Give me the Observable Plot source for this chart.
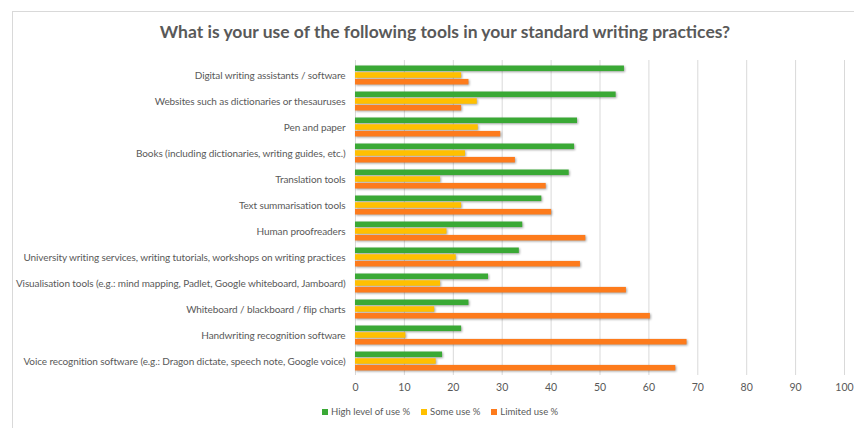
<!DOCTYPE html>
<html>
<head>
<meta charset="utf-8">
<script src="https://cdn.jsdelivr.net/npm/d3@7"></script>
<script src="https://cdn.jsdelivr.net/npm/@observablehq/plot@0.6"></script>
<style>
  html, body { margin: 0; padding: 0; background: #fff; }
  body { width: 854px; height: 428px; position: relative; overflow: hidden; font-family: Lato, "Open Sans", sans-serif; }
  #frame { position: absolute; left: 12px; top: 11px; width: 900px; height: 430px; border: 1px solid #d9d9d9; box-sizing: border-box; }
  #title { position: absolute; left: 0; width: 890px; top: 21px; text-align: center; font-size: 17.5px; font-weight: bold; color: #595959; }
  #chart { position: absolute; left: 0; top: 0; }
  #legend { position: absolute; top: 406px; left: 322px; display: flex; font-size: 9.5px; color: #595959; }
  #legend .item { display: flex; align-items: center; margin-right: 11px; }
  #legend .sw { width: 6px; height: 6px; margin-right: 3px; }
  svg g[aria-label="bar"] { filter: drop-shadow(1px 1.5px 1px rgba(0,0,0,0.35)); }
  svg g[aria-label="y-axis tick label"] text { font-size: 10px; letter-spacing: -0.1px; }
</style>
</head>
<body>
<div id="frame"></div>
<div id="title">What is your use of the following tools in your standard writing practices?</div>
<div id="chart"></div>
<div id="legend"></div>
<script>
const tools = [
  "Digital writing assistants / software",
  "Websites such as dictionaries or thesauruses",
  "Pen and paper",
  "Books (including dictionaries, writing guides, etc.)",
  "Translation tools",
  "Text summarisation tools",
  "Human proofreaders",
  "University writing services, writing tutorials, workshops on writing practices",
  "Visualisation tools (e.g.: mind mapping, Padlet, Google whiteboard, Jamboard)",
  "Whiteboard / blackboard / flip charts",
  "Handwriting recognition software",
  "Voice recognition software (e.g.: Dragon dictate, speech note, Google voice)"
];
const highUse =    [55.0, 53.3, 45.4, 44.8, 43.7, 38.1, 34.2, 33.5, 27.2, 23.2, 21.7, 17.8];
const someUse =    [21.7, 24.9, 25.1, 22.5, 17.4, 21.7, 18.7, 20.6, 17.4, 16.2, 10.3, 16.5];
const limitedUse = [23.2, 21.7, 29.7, 32.7, 39.0, 40.1, 47.1, 46.0, 55.4, 60.3, 67.8, 65.5];
const seriesNames = ["High level of use %", "Some use %", "Limited use %"];
const seriesColors = ["#3aa935", "#ffc000", "#fd7b1c"];
const xTicks = [0, 10, 20, 30, 40, 50, 60, 70, 80, 90, 100];

const seriesValues = [highUse, someUse, limitedUse];
const data = [];
seriesNames.forEach((s, si) => tools.forEach((t, i) => data.push({tool: t, series: s, value: seriesValues[si][i]})));

const W = 854, H = 428, mTop = 60, mBottom = 53;
const step = (H - mTop - mBottom) / tools.length;
const barH = 5.8;
const gap = 6.7;
const inset = (step - barH) / 2;

const barMarks = seriesNames.map((s, si) => Plot.barX(data.filter(d => d.series === s), {
  x: "value", y: "tool", fill: seriesColors[si],
  insetTop: inset, insetBottom: inset, dy: (si - 1) * gap
}));

const chart = Plot.plot({
  width: W, height: H,
  marginLeft: 355, marginRight: 10, marginTop: mTop, marginBottom: mBottom,
  style: { fontFamily: "Lato, 'Open Sans', sans-serif", fontSize: "10.5px", color: "#595959", background: "transparent" },
  x: { domain: [0, 100], ticks: xTicks, tickSize: 0, tickPadding: 8, label: null },
  y: { domain: tools, padding: 0, tickSize: 0, tickPadding: 10, label: null },
  marks: [
    Plot.ruleX(xTicks.filter(v => v > 0), { stroke: "#d9d9d9", strokeWidth: 1 }),
    Plot.ruleX([0], { stroke: "#d9d9d9" }),
    ...barMarks
  ]
});
document.getElementById("chart").appendChild(chart);

const legend = document.getElementById("legend");
seriesNames.forEach((s, i) => {
  const it = document.createElement("div");
  it.className = "item";
  const sw = document.createElement("div");
  sw.className = "sw";
  sw.style.background = seriesColors[i];
  const tx = document.createElement("span");
  tx.textContent = s;
  it.appendChild(sw); it.appendChild(tx);
  legend.appendChild(it);
});
</script>
</body>
</html>
